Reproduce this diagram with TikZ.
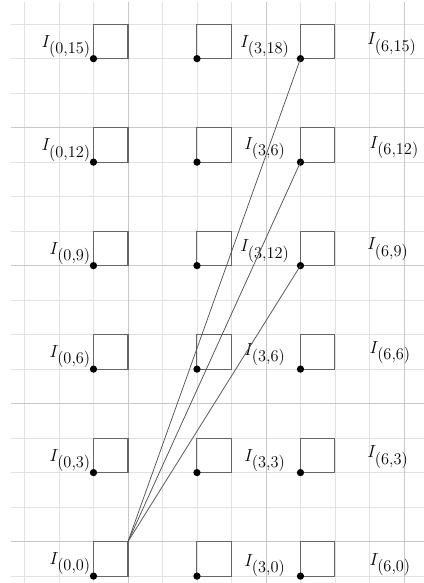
\documentclass[tikz,border=0pt]{standalone}
\usetikzlibrary{calc}
\definecolor{gridlight}{HTML}{E2E2E2}
\definecolor{griddark}{HTML}{C8C8C8}
\definecolor{boxcol}{HTML}{666666}
\definecolor{linecol}{HTML}{505050}
\newcommand{\lblI}[2]{$I_{\mbox{\fontsize{13.5}{15}\selectfont(#1,#2)}}$}
\tikzset{
  finegrid/.style={draw=gridlight, line width=0.6pt},
  majorgrid/.style={draw=griddark, line width=0.7pt},
  cellbox/.style={draw=boxcol, line width=0.85pt, minimum size=1cm, inner sep=0pt, outer sep=0pt, anchor=south west},
  cornerdot/.style={fill=black, circle, inner sep=0pt, minimum size=6pt},
  link/.style={draw=linecol, line width=0.6pt},
  lbl/.style={inner sep=0pt, font=\fontsize{14}{16}\selectfont}
}
\begin{document}
\begin{tikzpicture}
\useasboundingbox (-2.71,-0.20) rectangle (9.58,16.70);
% grid
\foreach \x in {-2,...,9} {
  \draw[finegrid] (\x,-0.3) -- (\x,16.64);
}
\foreach \y in {0,...,16} {
  \draw[finegrid] (-2.39,\y) -- (9.7,\y);
}
\foreach \x in {1,5,9} {
  \draw[majorgrid] (\x,-0.3) -- (\x,16.64);
}
\foreach \y in {1,5,9,13} {
  \draw[majorgrid] (-2.39,\y) -- (9.7,\y);
}
% squares and dots
\foreach \a in {0,3,6} {
  \foreach \b in {0,3,6,9,12,15} {
    \node[cellbox] (s-\a-\b) at (\a,\b) {};
    \node[cornerdot] (d-\a-\b) at (s-\a-\b.south west) {};
  }
}
% labels column 0
\foreach \b in {0,3,6,9,12,15} {
  \node[lbl, anchor=base east] (l-0-\b) at ($(s-0-\b.south west)+(-0.07,0.33)$) {\lblI{0}{\b}};
}
% labels column 3
\node[lbl, anchor=base] (l-3-15) at (4.97,15.33) {\lblI{3}{18}};
\node[lbl, anchor=base] (l-3-12) at (4.97,12.38) {\lblI{3}{6}};
\node[lbl, anchor=base] (l-3-9) at (4.97,9.4) {\lblI{3}{12}};
\node[lbl, anchor=base] (l-3-6) at (4.97,6.4) {\lblI{3}{6}};
\node[lbl, anchor=base] (l-3-3) at (4.97,3.33) {\lblI{3}{3}};
\node[lbl, anchor=base] (l-3-0) at (4.97,0.29) {\lblI{3}{0}};
% labels column 6
\node[lbl, anchor=base west] (l-6-15) at (7.93,15.4) {\lblI{6}{15}};
\node[lbl, anchor=base west] (l-6-12) at (8.0,12.4) {\lblI{6}{12}};
\node[lbl, anchor=base west] (l-6-9) at (7.93,9.46) {\lblI{6}{9}};
\node[lbl, anchor=base west] (l-6-6) at (8.0,6.46) {\lblI{6}{6}};
\node[lbl, anchor=base west] (l-6-3) at (7.93,3.43) {\lblI{6}{3}};
\node[lbl, anchor=base west] (l-6-0) at (8.0,0.32) {\lblI{6}{0}};
% connecting lines
\foreach \t in {15,12,9} {
  \draw[link] (s-0-0.north east) -- (s-6-\t.south west);
}
\end{tikzpicture}
\end{document}
